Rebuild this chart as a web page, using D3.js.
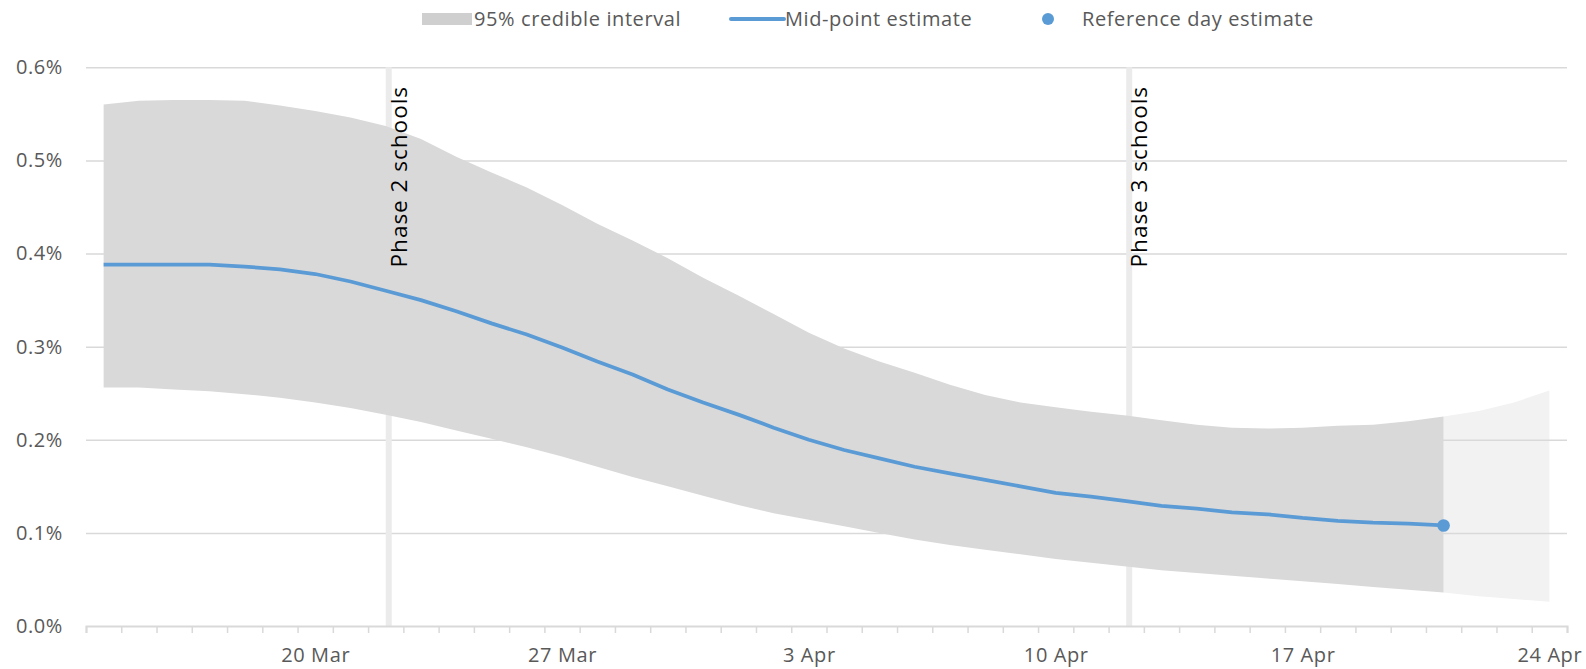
<!DOCTYPE html>
<html>
<head>
<meta charset="utf-8">
<script src="https://cdn.jsdelivr.net/npm/d3@7"></script>
<style>
	body { margin: 0; background: #fff; }
	text { font-family: "Open Sans", sans-serif; }
</style>
</head>
<body>
<svg id="chart" width="1586" height="669"></svg>
<script>
// one value per day, 14 Mar .. 24 Apr (42 days), values in %
const firstDay = new Date(2021, 2, 14);
const lastDay = new Date(2021, 3, 24);
const referenceDay = new Date(2021, 3, 21);

const midEstimate = [
	0.388, 0.388, 0.388, 0.388, 0.386, 0.383, 0.378, 0.370, 0.360, 0.350,
	0.338, 0.325, 0.313, 0.299, 0.284, 0.270, 0.254, 0.240, 0.227, 0.213,
	0.200, 0.189, 0.180, 0.171, 0.164, 0.157, 0.150, 0.143, 0.139, 0.134,
	0.129, 0.126, 0.122, 0.120, 0.116, 0.113, 0.111, 0.110, 0.108
];
const upperBound = [
	0.560, 0.564, 0.565, 0.565, 0.564, 0.559, 0.553, 0.546, 0.537, 0.523,
	0.504, 0.487, 0.471, 0.452, 0.432, 0.414, 0.395, 0.374, 0.355, 0.335,
	0.315, 0.298, 0.284, 0.272, 0.259, 0.248, 0.240, 0.235, 0.230, 0.226,
	0.221, 0.216, 0.213, 0.212, 0.213, 0.215, 0.216, 0.220, 0.225,
	0.231, 0.240, 0.253
];
const lowerBound = [
	0.256, 0.256, 0.254, 0.252, 0.249, 0.245, 0.240, 0.234, 0.227, 0.219,
	0.210, 0.201, 0.192, 0.182, 0.171, 0.160, 0.150, 0.140, 0.130, 0.121,
	0.114, 0.107, 0.100, 0.093, 0.087, 0.082, 0.077, 0.072, 0.068, 0.064,
	0.060, 0.057, 0.054, 0.051, 0.048, 0.045, 0.042, 0.039, 0.036,
	0.032, 0.029, 0.026
];
const yTicks = [0, 0.1, 0.2, 0.3, 0.4, 0.5, 0.6];
const labelDays = ["20 Mar", "27 Mar", "3 Apr", "10 Apr", "17 Apr", "24 Apr"];
const phases = [
	{ name: "Phase 2 schools", day: "22 Mar" },
	{ name: "Phase 3 schools", day: "12 Apr" }
];

const parseDay = d3.timeParse("%d %b %Y");
const fmtDay = d3.timeFormat("%-d %b");
const days = d3.timeDay.range(firstDay, d3.timeDay.offset(lastDay, 1));
const noon = (d) => d3.timeHour.offset(d, 12);
const refIdx = days.findIndex((d) => +d === +referenceDay);

const svg = d3.select("#chart");
const plotLeft = 86, plotRight = 1567, plotTop = 67.3, plotBottom = 626;

const x = d3.scaleTime()
	.domain([firstDay, d3.timeDay.offset(lastDay, 1)])
	.range([plotLeft, plotRight]);
const y = d3.scaleLinear().domain([0, 0.6]).range([plotBottom, plotTop]);

const rows = days.map((d, i) => ({ day: d, mid: midEstimate[i], lo: lowerBound[i], hi: upperBound[i] }));
const ciRows = rows.slice(0, refIdx + 1);
const projRows = rows.slice(refIdx);

const area = d3.area()
	.x((d) => x(noon(d.day)))
	.y0((d) => y(d.lo))
	.y1((d) => y(d.hi));

// projection band sits under the grid
svg.append("path")
	.datum(projRows)
	.attr("d", area)
	.attr("fill", "#f2f2f2");

// gridlines
svg.append("g")
	.attr("transform", "translate(" + plotLeft + ",0)")
	.call(d3.axisLeft(y).tickValues(yTicks.slice(1)).tickSize(-(plotRight - plotLeft)).tickFormat(""))
	.call((g) => g.select(".domain").remove())
	.selectAll("line")
	.attr("stroke", "#d9d9d9")
	.attr("stroke-width", 1.5);

// phase markers
svg.append("g").selectAll("line")
	.data(phases)
	.enter()
	.append("line")
	.attr("x1", (d) => x(noon(parseDay(d.day + " 2021"))) + 3)
	.attr("x2", (d) => x(noon(parseDay(d.day + " 2021"))) + 3)
	.attr("y1", plotTop)
	.attr("y2", plotBottom)
	.attr("stroke", "#ebebeb")
	.attr("stroke-width", 6);

// credible interval
svg.append("path")
	.datum(ciRows)
	.attr("d", area)
	.attr("fill", "#dad9da");

// y labels
svg.append("g")
	.attr("transform", "translate(" + plotLeft + ",0)")
	.call(d3.axisLeft(y).tickValues(yTicks).tickSize(0).tickPadding(23).tickFormat((d) => d.toFixed(1) + "%"))
	.call((g) => g.select(".domain").remove())
	.selectAll("text")
	.attr("font-family", "Open Sans")
	.attr("font-size", 20)
	.attr("letter-spacing", 0.6)
	.attr("fill", "#595959");

// x axis: a tick on every day boundary
svg.append("g")
	.attr("transform", "translate(0," + plotBottom + ")")
	.call(d3.axisBottom(x).tickValues(days.concat([d3.timeDay.offset(lastDay, 1)])).tickSize(7).tickFormat(""))
	.call((g) => g.select(".domain").attr("stroke", "#d9d9d9").attr("stroke-width", 2))
	.selectAll("line")
	.attr("stroke", "#d9d9d9")
	.attr("stroke-width", 1.5);

svg.append("g")
	.attr("transform", "translate(0," + plotBottom + ")")
	.call(d3.axisBottom(x).tickValues(labelDays.map((d) => noon(parseDay(d + " 2021")))).tickSize(0).tickPadding(22).tickFormat(fmtDay))
	.call((g) => g.select(".domain").remove())
	.selectAll("text")
	.attr("font-family", "Open Sans")
	.attr("font-size", 20)
	.attr("letter-spacing", 0.6)
	.attr("fill", "#595959");

// mid-point line and reference dot
svg.append("path")
	.datum(rows.filter((d) => d.mid !== undefined))
	.attr("d", d3.line().x((d) => x(noon(d.day))).y((d) => y(d.mid)))
	.attr("fill", "none")
	.attr("stroke", "#5b9bd5")
	.attr("stroke-width", 3.75)
	.attr("stroke-linejoin", "round");

svg.append("circle")
	.attr("cx", x(noon(referenceDay)))
	.attr("cy", y(midEstimate[refIdx]))
	.attr("r", 6.3)
	.attr("fill", "#5b9bd5");

// phase labels
svg.append("g").selectAll("text")
	.data(phases)
	.enter()
	.append("text")
	.attr("transform", (d) => "translate(" + (x(noon(parseDay(d.day + " 2021"))) + 21) + "," + y(0.580) + ") rotate(-90)")
	.attr("text-anchor", "end")
	.attr("font-size", 22.5)
	.attr("letter-spacing", 1)
	.attr("fill", "#000")
	.text((d) => d.name);

// legend
const legend = svg.append("g").attr("font-size", 20).attr("letter-spacing", 0.6).attr("fill", "#595959");
legend.append("rect").attr("x", 422).attr("y", 13).attr("width", 50).attr("height", 12).attr("fill", "#d0cfd0");
legend.append("text").attr("x", 474).attr("y", 26).text("95% credible interval");
legend.append("line").attr("x1", 731).attr("x2", 784).attr("y1", 19).attr("y2", 19)
	.attr("stroke", "#5b9bd5").attr("stroke-width", 4).attr("stroke-linecap", "round");
legend.append("text").attr("x", 785).attr("y", 26).text("Mid-point estimate");
legend.append("circle").attr("cx", 1048).attr("cy", 19).attr("r", 6).attr("fill", "#5b9bd5");
legend.append("text").attr("x", 1082).attr("y", 26).text("Reference day estimate");
</script>
</body>
</html>
